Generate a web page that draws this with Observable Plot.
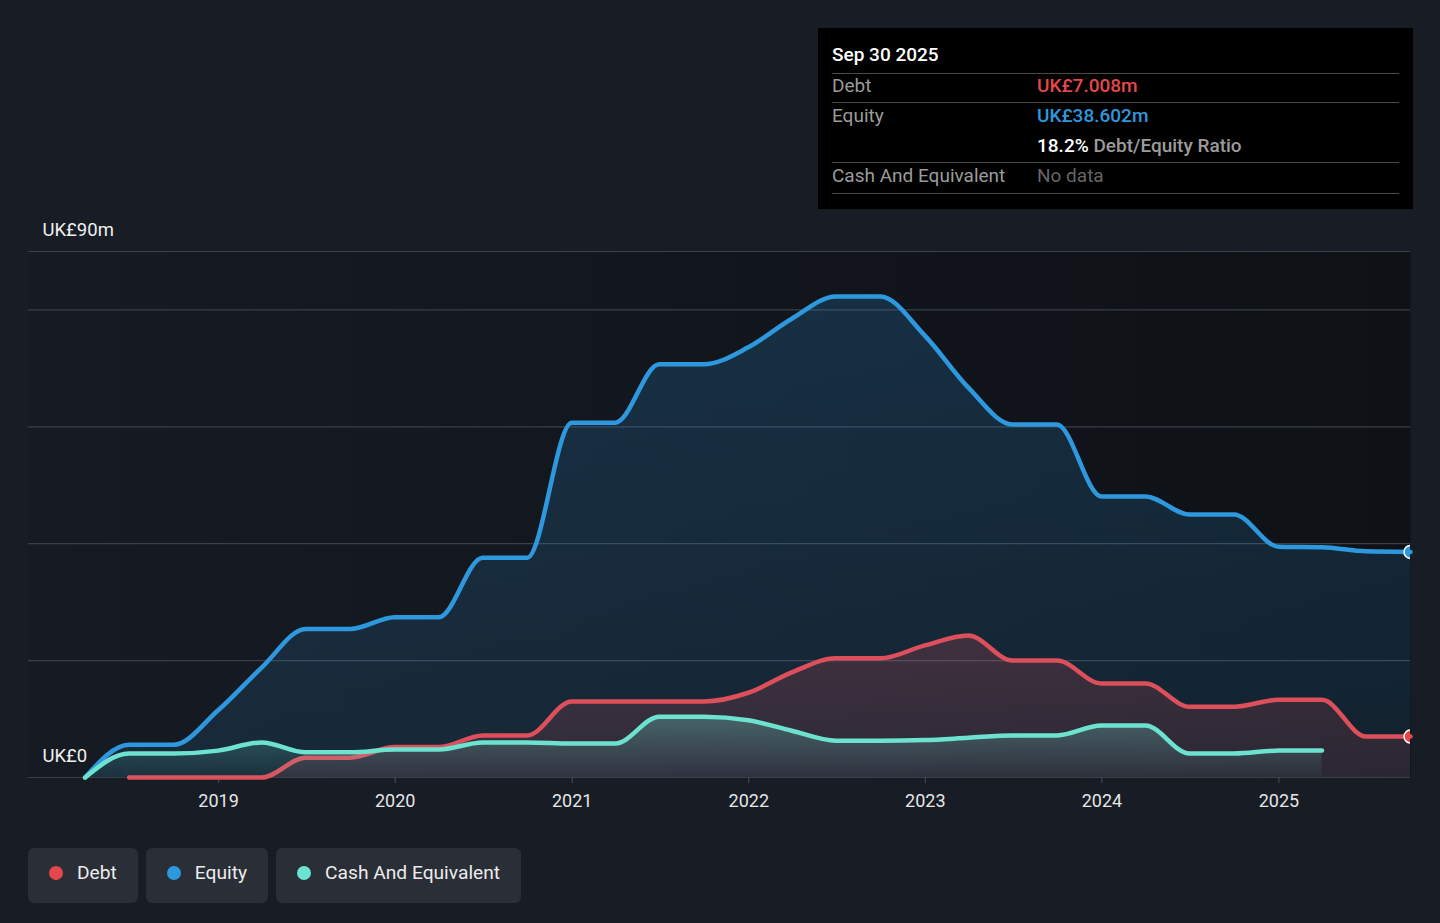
<!DOCTYPE html>
<html>
<head>
<meta charset="utf-8">
<script src="https://cdn.jsdelivr.net/npm/d3@7"></script>
<script src="https://cdn.jsdelivr.net/npm/@observablehq/plot@0.6"></script>
<style>
  html, body { margin: 0; padding: 0; }
  body { width: 1440px; height: 923px; background: #171c25; position: relative; overflow: hidden; font-family: Roboto, "Noto Sans", sans-serif; }
  #chart { position: absolute; left: 0; top: 0; }
  #tip { position: absolute; left: 818px; top: 28px; width: 595px; height: 181px; background: #000; }
  #tip .t { position: absolute; height: 24px; line-height: 24px; font-size: 19px; white-space: nowrap; }
  #tip .hr { position: absolute; left: 14px; width: 567px; height: 1px; background: #4a4a4a; }
  #legend { position: absolute; left: 28px; top: 848px; display: flex; gap: 8px; }
  .pill { height: 55px; box-sizing: border-box; padding: 0 21px 6px 21px; background: #2a2e37; border-radius: 6px; display: flex; align-items: center; color: #ececec; font-size: 19.2px; }
  .pill .dot { width: 14px; height: 14px; border-radius: 7px; margin-right: 14px; }
</style>
</head>
<body>
<div id="chart"></div>
<div id="tip"></div>
<div id="legend"></div>
<script>
// ---- data ----
const quarters = [
  "2018-03-31","2018-06-30","2018-09-30","2018-12-31",
  "2019-03-31","2019-06-30","2019-09-30","2019-12-31",
  "2020-03-31","2020-06-30","2020-09-30","2020-12-31",
  "2021-03-31","2021-06-30","2021-09-30","2021-12-31",
  "2022-03-31","2022-06-30","2022-09-30","2022-12-31",
  "2023-03-31","2023-06-30","2023-09-30","2023-12-31",
  "2024-03-31","2024-06-30","2024-09-30","2024-12-31",
  "2025-03-31","2025-06-30","2025-09-30"
];
const equity = [0, 5.6, 5.6, 11.5, 18.8, 25.4, 25.4, 27.4, 27.4, 37.6, 37.6, 60.7, 60.7, 70.7, 70.7, 73.6, 78.5, 82.3, 82.3, 75.6, 66.7, 60.4, 60.4, 48.1, 48.1, 45.0, 45.0, 39.5, 39.4, 38.7, 38.602];
const debt = [null, 0, 0, 0, 0, 3.4, 3.4, 5.2, 5.2, 7.2, 7.2, 13.0, 13.0, 13.0, 13.0, 14.5, 18.0, 20.4, 20.4, 22.6, 24.3, 20.0, 20.0, 16.1, 16.1, 12.1, 12.1, 13.3, 13.3, 7.0, 7.008];
const cash = [0, 4.1, 4.1, 4.6, 6.0, 4.3, 4.3, 4.8, 4.8, 6.0, 6.0, 5.8, 5.8, 10.4, 10.4, 9.8, 8.0, 6.3, 6.3, 6.4, 6.8, 7.2, 7.2, 8.9, 8.9, 4.1, 4.1, 4.6, 4.6, null, null];
const yearTicks = ["2019","2020","2021","2022","2023","2024","2025"];
const gridValues = [0, 20, 40, 60, 80, 90];
const yLabels = [{v: 90, t: "UK£90m"}, {v: 0, t: "UK£0"}];

const C = {debt: "#dc4f5b", equity: "#2e98df", cash: "#6de2d0"};

function series(vals) {
  return quarters.map((q, i) => ({date: new Date(q + "T00:00:00Z"), v: vals[i]})).filter(d => d.v != null);
}
const E = series(equity), D = series(debt), K = series(cash);

const plot = Plot.plot({
  width: 1440,
  height: 830,
  marginLeft: 28,
  marginRight: 30,
  marginTop: 251,
  marginBottom: 53,
  style: {fontFamily: "Roboto, 'Noto Sans', sans-serif", fontSize: "18px", color: "#e6e6e6", background: "transparent"},
  x: {type: "utc", domain: [new Date("2017-12-04T00:00:00Z"), new Date("2025-09-30T00:00:00Z")]},
  y: {domain: [0, 90], axis: null},
  marks: [
    Plot.frame({fill: "url(#bgGrad)", stroke: "none"}),
    Plot.ruleY(gridValues, {stroke: "#3a3f48", strokeWidth: 1.2}),
    Plot.axisX(yearTicks.map(y => new Date(y + "-01-01T00:00:00Z")), {
      tickFormat: d3.utcFormat("%Y"), tickSize: 6, tickPadding: 11, stroke: "#4a4f58", fill: "#e6e6e6", fontSize: 18
    }),
    Plot.text(yLabels, {y: "v", text: "t", frameAnchor: "left", dx: 14, dy: -21, textAnchor: "start", fill: "#f0f0f0", fontSize: 18.5}),
    Plot.areaY(E, {x: "date", y: "v", curve: "monotone-x", fill: "url(#eqGrad)"}),
    Plot.lineY(E, {x: "date", y: "v", curve: "monotone-x", stroke: C.equity, strokeWidth: 4.5}),
    Plot.areaY(D, {x: "date", y: "v", curve: "monotone-x", fill: "url(#dbGrad)"}),
    Plot.lineY(D, {x: "date", y: "v", curve: "monotone-x", stroke: C.debt, strokeWidth: 4.5}),
    Plot.areaY(K, {x: "date", y: "v", curve: "monotone-x", fill: "url(#caGrad)"}),
    Plot.lineY(K, {x: "date", y: "v", curve: "monotone-x", stroke: C.cash, strokeWidth: 4.5, strokeLinecap: "round"}),
    Plot.dot([E[E.length - 1]], {x: "date", y: "v", r: 6.5, fill: C.equity, stroke: "#fff", strokeWidth: 1.5, clip: true}),
    Plot.dot([D[D.length - 1]], {x: "date", y: "v", r: 6.5, fill: "#e5474d", stroke: "#fff", strokeWidth: 1.5, clip: true})
  ]
});

const svg = d3.select(plot);
const defs = svg.insert("defs", ":first-child");
function grad(id, x2, y2, stops) {
  const g = defs.append("linearGradient").attr("id", id).attr("x1", 0).attr("y1", 0).attr("x2", x2).attr("y2", y2);
  stops.forEach(([o, c, a]) => g.append("stop").attr("offset", o).attr("stop-color", c).attr("stop-opacity", a));
}
grad("bgGrad", 1, 0, [[0, "#161b23", 1], [1, "#0e1116", 1]]);
grad("eqGrad", 0, 1, [[0, C.equity, 0.2], [1, C.equity, 0.12]]);
grad("dbGrad", 0, 1, [[0, C.debt, 0.22], [1, C.debt, 0.12]]);
grad("caGrad", 0, 1, [[0, C.cash, 0.3], [1, C.cash, 0.04]]);
document.getElementById("chart").appendChild(plot);

// ---- tooltip box ----
const tipItems = [
  {top: 15, left: 14, html: "Sep 30 2025", color: "#ffffff", weight: 500},
  {top: 46, left: 14, html: "Debt", color: "#9b9b9b", weight: 400},
  {top: 46, left: 219, html: "UK£7.008m", color: "#e5474d", weight: 500},
  {top: 76, left: 14, html: "Equity", color: "#9b9b9b", weight: 400},
  {top: 76, left: 219, html: "UK£38.602m", color: "#2e98df", weight: 500},
  {top: 106, left: 219, html: '<span style="color:#fff;font-weight:500">18.2%</span> Debt/Equity Ratio', color: "#9b9b9b", weight: 500},
  {top: 136, left: 14, html: "Cash And Equivalent", color: "#9b9b9b", weight: 400},
  {top: 136, left: 219, html: "No data", color: "#666666", weight: 400}
];
const tip = document.getElementById("tip");
[45, 74, 134, 165].forEach(t => {
  const d = document.createElement("div"); d.className = "hr"; d.style.top = t + "px"; tip.appendChild(d);
});
tipItems.forEach(it => {
  const d = document.createElement("div");
  d.className = "t";
  d.style.top = it.top + "px"; d.style.left = it.left + "px";
  d.style.color = it.color; d.style.fontWeight = it.weight;
  d.innerHTML = it.html;
  tip.appendChild(d);
});

// ---- legend ----
const legendItems = [["Debt", "#e5474d"], ["Equity", "#2e98df"], ["Cash And Equivalent", "#6de2d0"]];
const lg = document.getElementById("legend");
legendItems.forEach(([name, col]) => {
  const p = document.createElement("div"); p.className = "pill";
  p.innerHTML = `<span class="dot" style="background:${col}"></span><span>${name}</span>`;
  lg.appendChild(p);
});
</script>
</body>
</html>
